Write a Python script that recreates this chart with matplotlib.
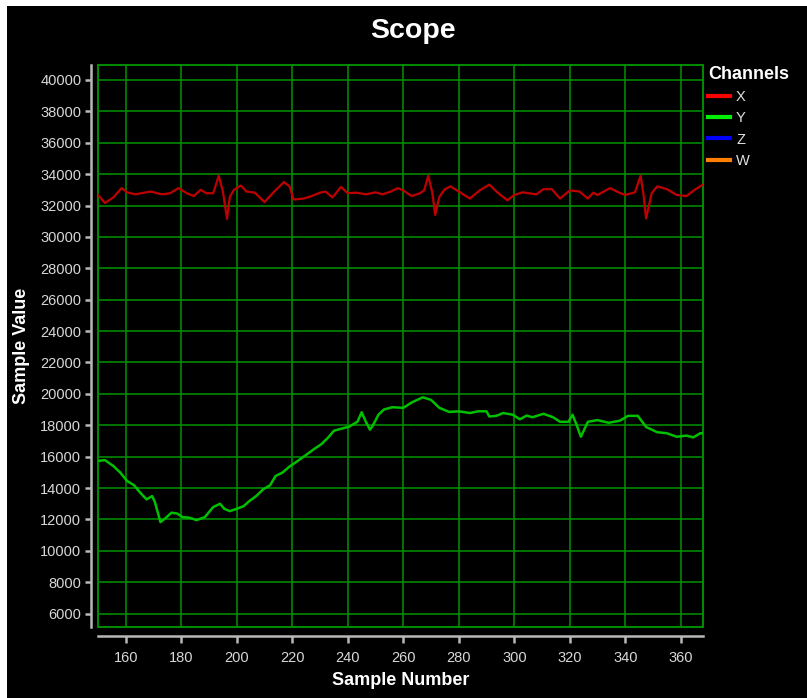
import matplotlib.pyplot as plt
from matplotlib.lines import Line2D
from matplotlib.patches import Rectangle

# channel X (red trace)
x_ch = [150, 152.5, 155.5, 158.5, 160.5, 163.5, 165.5, 169, 173, 176, 179, 182, 184.5, 187, 189,
        191.5, 193.5, 195, 196.5, 197.5, 199, 201.5, 203.5, 206.5, 210, 213.5, 217, 219, 220.5,
        224, 227, 230, 232, 234.5, 237.5, 240, 243, 246.5, 250, 252.5, 255.5, 258, 260, 263, 266,
        267.5, 269, 270.5, 271.5, 273, 275, 277, 280, 284, 287.5, 291, 294, 297.5, 300, 303, 308,
        310.5, 313.5, 316.5, 320, 323.5, 326.5, 328.5, 330, 334.5, 337.5, 340, 343.5, 345.5,
        346.5, 347.5, 349.5, 351.5, 355, 358.5, 362, 365, 368]
x_val = [32670, 32160, 32510, 33110, 32840, 32710, 32780, 32890, 32710, 32780, 33110, 32780, 32600,
         33000, 32780, 32780, 33890, 32890, 31150, 32560, 33000, 33270, 32890, 32820, 32220, 32890,
         33490, 33220, 32380, 32440, 32600, 32820, 32890, 32510, 33180, 32780, 32820, 32710, 32840,
         32710, 32890, 33110, 32960, 32600, 32780, 32960, 33890, 32780, 31400, 32560, 33040, 33220,
         32890, 32440, 32960, 33330, 32820, 32330, 32670, 32840, 32710, 33040, 33040, 32440, 32960,
         32890, 32440, 32820, 32670, 33110, 32840, 32670, 32840, 33890, 32780, 31180, 32780, 33220,
         33040, 32670, 32600, 33000, 33330]

# channel Y (green trace)
y_ch = [150, 152.5, 155.5, 158, 160.5, 163, 165, 167.5, 169.5, 170.5, 172.5, 174, 176.5, 178.5,
        180.5, 183, 185.5, 188.5, 191.5, 194, 195.5, 197.5, 200, 202.5, 204.5, 207, 209.5, 212,
        214, 216.5, 219, 221.5, 224.5, 227.5, 230.5, 233, 235, 238, 240.5, 243.5, 245, 246.5, 248,
        249, 251, 253, 256, 260, 263, 267, 270, 273, 276.5, 280, 284, 287, 290, 291, 293.5, 296,
        299.5, 302, 304.5, 306.5, 310.5, 314, 316.5, 319.5, 321, 322.5, 324, 326.5, 330, 334, 338,
        341, 344.5, 347.5, 351.5, 355, 358.5, 362, 364.5, 367, 368]
y_val = [15730, 15780, 15410, 14990, 14450, 14180, 13750, 13280, 13490, 13110, 11830, 12040, 12430,
         12380, 12150, 12110, 11960, 12150, 12790, 13000, 12680, 12530, 12680, 12850, 13170, 13490,
         13920, 14180, 14770, 14990, 15370, 15670, 16050, 16440, 16800, 17230, 17650, 17800, 17910,
         18230, 18830, 18230, 17720, 17970, 18660, 19000, 19150, 19110, 19450, 19780, 19620, 19110,
         18850, 18890, 18780, 18890, 18890, 18560, 18600, 18780, 18670, 18380, 18620, 18510, 18730,
         18510, 18220, 18220, 18670, 18000, 17270, 18220, 18330, 18160, 18290, 18600, 18600, 17890,
         17560, 17490, 17270, 17340, 17230, 17490, 17500]

channels = ["X", "Y", "Z", "W"]
chan_colors = ["#ff0000", "#00ee00", "#0000ff", "#ff8000"]
x_ticks = list(range(160, 361, 20))
y_ticks = list(range(6000, 40001, 2000))

plt.rcParams['font.family'] = ['Liberation Sans', 'DejaVu Sans']

fig = plt.figure(figsize=(8.07, 6.98), dpi=100, facecolor="white")
fig.patches.append(Rectangle((7 / 807, 0), 1, 1 - 6 / 698, transform=fig.transFigure,
                             facecolor="black", edgecolor="none", zorder=-10))

ax = fig.add_axes([98 / 807, 1 - 627 / 698, (703 - 98) / 807, (627 - 65) / 698])
ax.set_facecolor("black")
ax.patch.set_edgecolor("#008800")
ax.patch.set_linewidth(1.5)

ax.plot(x_ch, x_val, color="#c00000", lw=1.6, zorder=3)
ax.plot(y_ch, y_val, color="#00c000", lw=1.8, zorder=3)

ax.set_xlim(150, 368)
ax.set_ylim(5150, 40950)
ax.set_xticks(x_ticks)
ax.set_yticks(y_ticks)
ax.grid(True, color="#008800", lw=1.2)
ax.set_axisbelow(True)

for s in ["top", "right"]:
    ax.spines[s].set_visible(False)
ax.spines["left"].set_position(("outward", 5))
ax.spines["bottom"].set_position(("outward", 6.5))
for s in ["left", "bottom"]:
    ax.spines[s].set_color("#b8b8b8")
    ax.spines[s].set_linewidth(1.8)
ax.tick_params(axis="both", colors="#b8b8b8", labelcolor="#d8d8d8", labelsize=10.5, width=1.8)
ax.tick_params(axis="x", length=5, pad=6)
ax.tick_params(axis="y", length=4, pad=3)

ax.set_xlabel("Sample Number", color="white", fontsize=13, fontweight="bold", labelpad=5)
ax.set_ylabel("Sample Value", color="white", fontsize=13, fontweight="bold", labelpad=7)
fig.text(413 / 807, 1 - 31 / 698, "Scope", color="white", fontsize=20.5, fontweight="bold",
         ha="center", va="center")

handles = [Line2D([], [], color=c, lw=3) for c in chan_colors]
leg = ax.legend(handles, channels, title="Channels", loc="upper left",
                bbox_to_anchor=(0.992, 1.017), frameon=False, labelcolor="#e0e0e0",
                fontsize=10.5, handlelength=1.5, handletextpad=0.4, labelspacing=0.5,
                borderaxespad=0.3)
leg.get_title().set_color("white")
leg.get_title().set_fontweight("bold")
leg.get_title().set_fontsize(13)
leg._legend_box.align = "left"

fig.savefig("out.png", dpi=100, facecolor=fig.get_facecolor())
